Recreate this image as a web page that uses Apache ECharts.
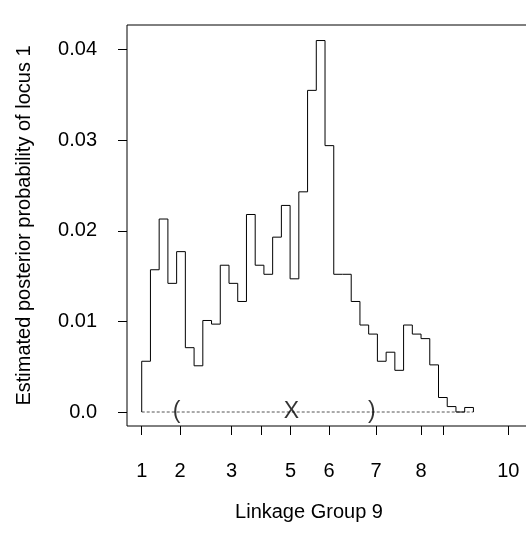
<!DOCTYPE html>
<html>
<head>
<meta charset="utf-8">
<script src="https://cdn.jsdelivr.net/npm/echarts@6/dist/echarts.min.js"></script>
<style>
    html, body { margin: 0; padding: 0; background: #fff; }
    #chart { width: 526px; height: 548px; }
</style>
</head>
<body>
<div id="chart"></div>
<script>
// bins of 2 cM, starting at marker 1
var binWidth = 2;
var probs = [
    0.0056, 0.0157, 0.0213, 0.0142, 0.0177, 0.0071, 0.0051, 0.0101, 0.0097, 0.0162,
    0.0142, 0.0122, 0.0218, 0.0162, 0.0152, 0.0193, 0.0228, 0.0147, 0.0243, 0.0355,
    0.0410, 0.0294, 0.0152, 0.0152, 0.0122, 0.0096, 0.0086, 0.0056, 0.0066, 0.0046,
    0.0096, 0.0086, 0.0081, 0.0052, 0.0016, 0.0006, 0.0000, 0.0005
];

// marker positions (cM) and the labels R kept
var markerPos = [0, 8.8, 20.6, 27.5, 34.1, 42.9, 53.7, 64.0, 69.1, 84.0];
var markerNames = ['1', '2', '3', '4', '5', '6', '7', '8', '9', '10'];
var shownMarkers = ['1', '2', '3', '5', '6', '7', '8', '10'];

var yTicks = [0, 0.01, 0.02, 0.03, 0.04];

// interval around the estimate
var ciPos = [8.0, 34.3, 52.7];
var ciSymbols = ['(', 'X', ')'];

var font = 'Liberation Sans, Arial, sans-serif';

// step outline of the histogram
var steps = [[0, 0]];
for (var i = 0; i < probs.length; i++) {
    steps.push([i * binWidth, probs[i]]);
    steps.push([(i + 1) * binWidth, probs[i]]);
}
steps.push([probs.length * binWidth, 0]);

var labelPos = [];
for (var j = 0; j < markerNames.length; j++) {
    if (shownMarkers.indexOf(markerNames[j]) >= 0) labelPos.push(markerPos[j]);
}

var chart = echarts.init(document.getElementById('chart'));

chart.setOption({
    animation: false,
    grid: {
        left: 127,
        top: 25,
        width: 419,
        height: 401,
        outerBoundsMode: 'none',
        containLabel: false,
        show: true,
        borderColor: '#000',
        borderWidth: 1
    },
    xAxis: {
        type: 'value',
        min: -3.37,
        max: 92.63,
        name: 'Linkage Group 9',
        nameLocation: 'middle',
        nameGap: 76,
        nameTextStyle: {
            color: '#000',
            fontSize: 20,
            fontFamily: font,
            padding: [0, 55, 0, 0]
        },
        axisLine: { show: false, onZero: false },
        splitLine: { show: false },
        axisTick: {
            show: true,
            length: 9,
            customValues: markerPos,
            lineStyle: { color: '#000', width: 1 }
        },
        axisLabel: {
            margin: 35,
            color: '#000',
            fontSize: 20,
            fontFamily: font,
            customValues: labelPos,
            formatter: function(v) {
                for (var k = 0; k < markerPos.length; k++) {
                    if (Math.abs(markerPos[k] - v) < 1e-6) return markerNames[k];
                }
                return '';
            }
        }
    },
    yAxis: {
        type: 'value',
        min: -0.001545,
        max: 0.042715,
        name: 'Estimated posterior probability of locus 1',
        nameLocation: 'middle',
        nameGap: 93,
        nameTextStyle: {
            color: '#000',
            fontSize: 20,
            fontFamily: font
        },
        axisLine: { show: false, onZero: false },
        splitLine: { show: false },
        axisTick: {
            show: true,
            length: 9,
            customValues: yTicks,
            lineStyle: { color: '#000', width: 1 }
        },
        axisLabel: {
            margin: 30,
            color: '#000',
            fontSize: 20,
            fontFamily: font,
            customValues: yTicks,
            formatter: function(v) {
                return v === 0 ? '0.0' : v.toFixed(2);
            }
        }
    },
    series: [{
        // dotted baseline under the histogram
        type: 'line',
        data: [[0, 0], [probs.length * binWidth, 0]],
        symbol: 'none',
        silent: true,
        z: 1,
        lineStyle: { color: '#555', width: 1, type: [3, 2] }
    }, {
        type: 'line',
        data: steps,
        symbol: 'none',
        z: 2,
        lineStyle: { color: '#000', width: 1 }
    }, {
        type: 'scatter',
        symbolSize: 0,
        z: 3,
        data: ciPos.map(function(x, k) {
            return { value: [x, 0], name: ciSymbols[k] };
        }),
        label: {
            show: true,
            position: 'inside',
            formatter: '{b}',
            color: '#000',
            fontSize: 23,
            fontFamily: font
        }
    }]
});
</script>
</body>
</html>
